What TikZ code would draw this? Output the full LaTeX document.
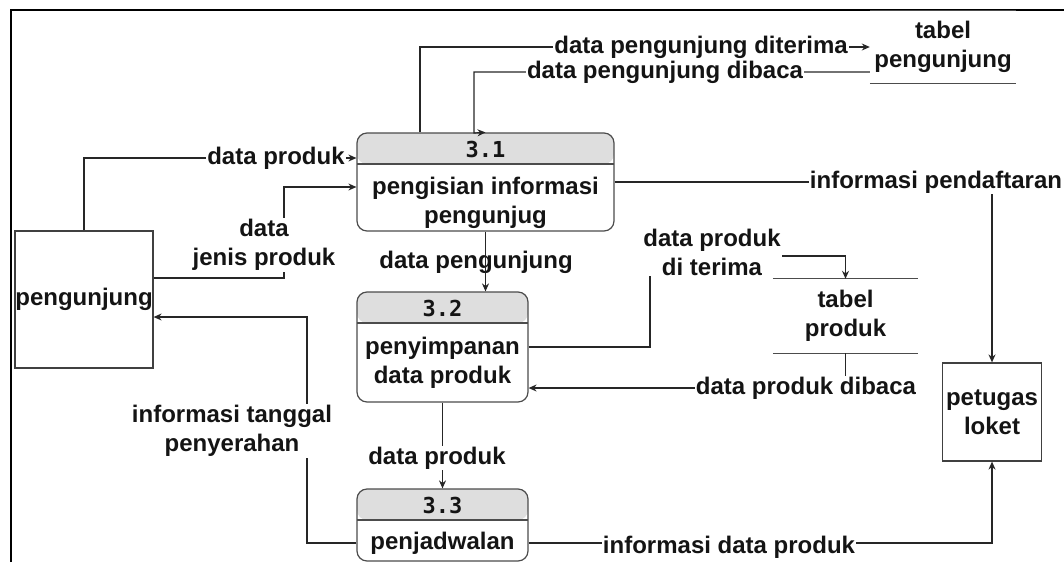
\documentclass[tikz,border=0pt]{standalone}
\usepackage{fontspec}
\setmainfont{Liberation Sans}
\newfontfamily\monob{DejaVu Sans Mono}
\usetikzlibrary{arrows.meta,calc}
\begin{document}
\begin{tikzpicture}[x=1pt,y=-1pt,
  every node/.style={font=\fontsize{24}{29}\selectfont\bfseries, text=black!92},
  flow/.style={draw=black!85, line width=1.2pt},
  arr/.style={flow,-{Stealth[length=8pt,width=7pt]}},
  lbl/.style={fill=white, inner sep=1pt, align=center},
  nolbl/.style={inner sep=1pt, align=center},
  proc/.style={draw=black!70, line width=1.2pt, rounded corners=10pt, inner sep=0pt,
    path picture={
      \fill[black!13] (path picture bounding box.north west) rectangle ([yshift=-31pt]path picture bounding box.north east);
      \draw[black!70,line width=1.2pt] ([yshift=-31pt]path picture bounding box.north west) -- ([yshift=-31pt]path picture bounding box.north east);}},
  ext/.style={draw=black!75, line width=1.2pt, inner sep=0pt},
  num/.style={font=\monob\bfseries\fontsize{22}{26}\selectfont},
  store/.style={inner sep=0pt, align=center},
  storeline/.style={draw=black!70, line width=1.2pt},
]
\useasboundingbox (0,0) rectangle (1064,562);
% frame
\draw[line width=2pt, black] (11,562) -- (11,10) -- (1064,10);

% external entities
\node[ext, minimum width=138pt, minimum height=137pt] (e) at (84,299.5) {pengunjung};
\node[ext, minimum width=98.5pt, minimum height=98pt, align=center] (pl) at (992,412) {petugas\\loket};

% processes
\node[proc, minimum width=257pt, minimum height=98pt] (p1) at (485.5,182) {};
\node[num] (p1n) at (485.5,149) {3.1};
\node[align=center] (p1t) at (485.5,202.5) {pengisian informasi\\pengunjug};

\node[proc, minimum width=171pt, minimum height=110pt] (p2) at (442.5,347) {};
\node[num] (p2n) at (442.5,308) {3.2};
\node[align=center] (p2t) at (442.5,362.5) {penyimpanan\\data produk};

\node[proc, minimum width=171pt, minimum height=72pt] (p3) at (442.5,525) {};
\node[num] (p3n) at (442.5,505) {3.3};
\node (p3t) at (442.5,543) {penjadwalan};

% data stores
\node[store, minimum width=146pt, minimum height=72pt] (s1) at (943,47) {tabel\\pengunjung};
\draw[storeline] (s1.north west) -- (s1.north east);
\draw[storeline] (s1.south west) -- (s1.south east);
\node[store, minimum width=145pt, minimum height=74pt] (s2) at (845.5,316) {tabel\\produk};
\draw[storeline] (s2.north west) -- (s2.north east);
\draw[storeline] (s2.south west) -- (s2.south east);

% flows
\draw[arr] ([xshift=-65.5pt]p1.north) |- (s1.west);
\node[lbl] (l1) at (701,47) {data pengunjung diterima};

\draw[arr] ([yshift=-25pt]s1.west) -| (474,133) -- (p1.north);
\node[lbl] (l2) at (665,72) {data pengunjung dibaca};

\draw[arr] (e.north) |- ([yshift=24pt]p1.west);
\node[lbl] (l3) at (276,158) {data produk};

\draw[arr] ([yshift=21.5pt]e.east) -| (284,187) -- ([yshift=-5pt]p1.west);
\node[lbl] (l4) at (264,245) {data\\jenis produk};

\node[nolbl] (l5) at (476,262) {data pengunjung};
\draw[arr] (p1.south) -- (p1.south |- p2.north);

\draw[arr] (p2.south) -- (p3.north);
\node[lbl] (l6) at (437,458) {data produk};

\draw[arr] (p2.east) -| (650,256) -| (s2.north);
\node[lbl] (l7) at (712,252) {data produk\\di terima};

\draw[arr] (s2.south) |- ([yshift=-41pt]p2.east);
\node[lbl] (l8) at (806,388) {data produk dibaca};

\draw[arr] (p1.east) -| (pl.north);
\node[lbl] (l9) at (936,182) {informasi pendaftaran};

\draw[arr] ([yshift=-18pt]p3.east) -| (pl.south);
\node[lbl] (l10) at (729,547) {informasi data produk};

\draw[arr] ([yshift=-18pt]p3.west) -| (307,317) -- ([yshift=-17.5pt]e.east);
\node[lbl] (l11) at (232,431) {informasi tanggal\\penyerahan};
\end{tikzpicture}
\end{document}
